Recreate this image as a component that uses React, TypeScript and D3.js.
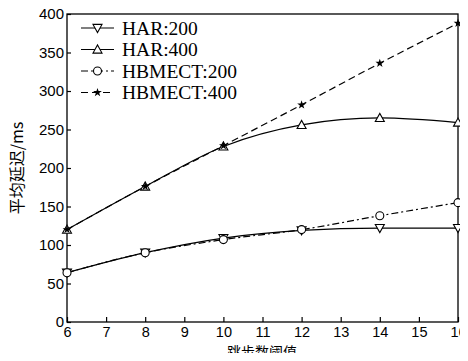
import React, { useEffect, useRef } from "react";
import * as d3 from "d3";

const hops = [6, 8, 10, 12, 14, 16];
const har200 = [64, 90, 109, 119, 122, 122];
const har400 = [120, 176, 228, 256, 265, 259];
const hbmect200 = [64, 90, 107, 120, 138, 155];
const hbmect400 = [120, 176, 229, 282, 336, 388];
const seriesNames = ["HAR:200", "HAR:400", "HBMECT:200", "HBMECT:400"];
const xTicks = [6, 7, 8, 9, 10, 11, 12, 13, 14, 15, 16];
const yTicks = [0, 50, 100, 150, 200, 250, 300, 350, 400];

const W = 468;
const H = 361;
const m = { left: 67, right: 10, top: 14, bottom: 39 };

function App() {
  const ref = useRef<SVGSVGElement>(null);

  useEffect(() => {
    const svg = d3.select(ref.current);
    svg.selectAll("*").remove();

    const x = d3.scaleLinear().domain([6, 16]).range([m.left, W - m.right]);
    const y = d3.scaleLinear().domain([0, 400]).range([H - m.bottom, m.top]);

    const series = [
      { name: seriesNames[0], values: har200, dash: null, marker: "down" },
      { name: seriesNames[1], values: har400, dash: null, marker: "up" },
      { name: seriesNames[2], values: hbmect200, dash: "7,3,2,3", marker: "circle" },
      { name: seriesNames[3], values: hbmect400, dash: "7,4", marker: "star" },
    ];

    // frame
    svg
      .append("rect")
      .attr("x", m.left)
      .attr("y", m.top)
      .attr("width", W - m.left - m.right)
      .attr("height", H - m.top - m.bottom)
      .attr("fill", "white")
      .attr("stroke", "black")
      .attr("stroke-width", 1.3);

    const xAxis = svg
      .append("g")
      .attr("transform", `translate(0,${H - m.bottom})`)
      .call(d3.axisBottom(x).tickValues(xTicks).tickSize(-5).tickPadding(5));
    xAxis.select(".domain").remove();
    xAxis
      .selectAll("text")
      .attr("font-family", "Liberation Sans, Arial, sans-serif")
      .attr("font-size", 14.5)
      .attr("fill", "black");
    xAxis.selectAll("line").attr("stroke-width", 1.2);

    const yAxis = svg
      .append("g")
      .attr("transform", `translate(${m.left},0)`)
      .call(d3.axisLeft(y).tickValues(yTicks).tickSize(-4).tickPadding(3));
    yAxis.select(".domain").remove();
    yAxis
      .selectAll("text")
      .attr("font-family", "Liberation Sans, Arial, sans-serif")
      .attr("font-size", 15)
      .attr("fill", "black");
    yAxis.selectAll("line").attr("stroke-width", 1.2);

    const line = d3
      .line<number>()
      .x((_, i) => x(hops[i]))
      .y((d) => y(d))
      .curve(d3.curveMonotoneX);

    const drawMarker = (g: any, kind: string, cx: number, cy: number) => {
      const s = 4.5;
      if (kind === "down") {
        g.append("path")
          .attr("d", `M${cx - s},${cy - s * 0.8}L${cx + s},${cy - s * 0.8}L${cx},${cy + s}Z`)
          .attr("fill", "white")
          .attr("stroke", "black")
          .attr("stroke-width", 1.1);
      } else if (kind === "up") {
        g.append("path")
          .attr("d", `M${cx - s},${cy + s * 0.8}L${cx + s},${cy + s * 0.8}L${cx},${cy - s}Z`)
          .attr("fill", "white")
          .attr("stroke", "black")
          .attr("stroke-width", 1.1);
      } else if (kind === "circle") {
        g.append("circle")
          .attr("cx", cx)
          .attr("cy", cy)
          .attr("r", 4)
          .attr("fill", "white")
          .attr("stroke", "black")
          .attr("stroke-width", 1.1);
      } else {
        g.append("path")
          .attr("d", d3.symbol(d3.symbolStar, 24)())
          .attr("transform", `translate(${cx},${cy})`)
          .attr("fill", "black");
      }
    };

    const plot = svg.append("g");
    series.forEach((s) => {
      plot
        .append("path")
        .datum(s.values)
        .attr("d", line)
        .attr("fill", "none")
        .attr("stroke", "black")
        .attr("stroke-width", 1.2)
        .attr("stroke-dasharray", s.dash);
    });
    series.forEach((s) => {
      s.values.forEach((v, i) => drawMarker(plot, s.marker, x(hops[i]), y(v)));
    });

    // legend
    const legend = svg.append("g");
    series.forEach((s, i) => {
      const ly = 28 + i * 21.5;
      legend
        .append("line")
        .attr("x1", 81)
        .attr("x2", 114)
        .attr("y1", ly)
        .attr("y2", ly)
        .attr("stroke", "black")
        .attr("stroke-width", 1.2)
        .attr("stroke-dasharray", s.dash);
      drawMarker(legend, s.marker, 97.5, ly);
      legend
        .append("text")
        .attr("x", 122)
        .attr("y", ly + 6.5)
        .attr("font-family", "Liberation Serif, Times New Roman, serif")
        .attr("font-size", 19.5)
        .attr("fill", "black")
        .text(s.name);
    });

    svg
      .append("text")
      .attr("x", 262)
      .attr("y", 357)
      .attr("text-anchor", "middle")
      .attr("font-family", "Noto Sans CJK SC, sans-serif")
      .attr("font-size", 14)
      .attr("fill", "black")
      .text("跳步数阈值");

    svg
      .append("text")
      .attr("transform", `translate(23,${(m.top + H - m.bottom) / 2}) rotate(-90)`)
      .attr("text-anchor", "middle")
      .attr("font-family", "Noto Sans CJK SC, sans-serif")
      .attr("font-size", 16)
      .attr("fill", "black")
      .text("平均延迟/ms");
  }, []);

  return (
    <div style={{ margin: "-8px" }}>
      <svg ref={ref} width={W} height={H} style={{ display: "block", background: "white" }}></svg>
    </div>
  );
}

export default App;
